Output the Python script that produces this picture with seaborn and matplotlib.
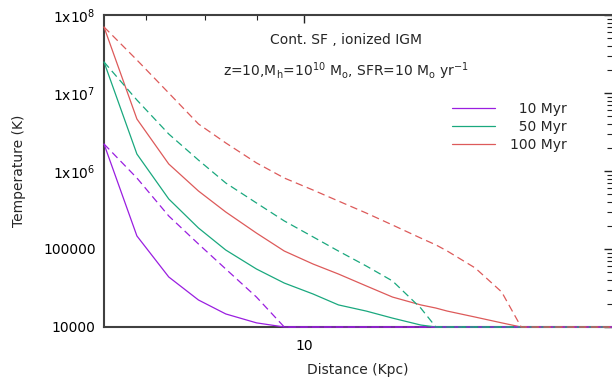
""" Temperature profiles vs distance, continuous SF in ionized IGM """

import pandas as pd
import seaborn as sns
import matplotlib.pyplot as plt
from matplotlib.lines import Line2D
from matplotlib.ticker import FixedLocator, FixedFormatter, LogLocator, NullFormatter

# Data
distance = [6.37, 6.86, 7.37, 7.88, 8.38, 8.98, 9.56, 10.2, 10.8, 11.5, 12.2,
            13.0, 13.45, 13.8, 14.7, 15.6, 16.3, 16.6, 17.6, 18.7, 20.0]

ages = ["10 Myr", "50 Myr", "100 Myr"]

solid_10 = [2.22e6, 1.47e5, 4.38e4, 2.22e4, 1.47e4, 1.13e4, 1.0e4, 1.0e4, 1.0e4, 1.0e4, 1.0e4,
            1.0e4, 1.0e4, 1.0e4, 1.0e4, 1.0e4, 1.0e4, 1.0e4, 1.0e4, 1.0e4, 1.0e4]
solid_50 = [2.50e7, 1.65e6, 4.38e5, 1.86e5, 9.70e4, 5.54e4, 3.66e4, 2.65e4, 1.92e4, 1.60e4, 1.30e4,
            1.06e4, 1.0e4, 1.0e4, 1.0e4, 1.0e4, 1.0e4, 1.0e4, 1.0e4, 1.0e4, 1.0e4]
solid_100 = [7.02e7, 4.64e6, 1.23e6, 5.54e5, 2.98e5, 1.60e5, 9.42e4, 6.42e4, 4.78e4, 3.36e4, 2.42e4,
             1.92e4, 1.75e4, 1.60e4, 1.34e4, 1.13e4, 1.0e4, 1.0e4, 1.0e4, 1.0e4, 1.0e4]

dashed_10 = [2.22e6, 8.13e5, 2.65e5, 1.16e5, 5.54e4, 2.42e4, 1.0e4, 1.0e4, 1.0e4, 1.0e4, 1.0e4,
             1.0e4, 1.0e4, 1.0e4, 1.0e4, 1.0e4, 1.0e4, 1.0e4, 1.0e4, 1.0e4, 1.0e4]
dashed_50 = [2.50e7, 8.13e6, 2.98e6, 1.38e6, 7.02e5, 3.89e5, 2.29e5, 1.43e5, 9.42e4, 6.05e4, 3.89e4,
             1.75e4, 1.0e4, 1.0e4, 1.0e4, 1.0e4, 1.0e4, 1.0e4, 1.0e4, 1.0e4, 1.0e4]
dashed_100 = [7.02e7, 2.65e7, 1.0e7, 4.01e6, 2.29e6, 1.27e6, 8.13e5, 5.70e5, 4.12e5, 2.89e5, 2.03e5,
              1.38e5, 1.13e5, 9.42e4, 5.70e4, 2.81e4, 1.0e4, 1.0e4, 1.0e4, 1.0e4, 1.0e4]

colors = ["#9a1ee0", "#1aa87e", "#dd5a5a"]


def long_form(series):
    """ Stack series into a long-form frame """
    frames = []
    for age, temp in zip(ages, series):
        frames.append(pd.DataFrame({"Distance": distance, "Temperature": temp, "Age": age}))
    return pd.concat(frames, ignore_index=True)


if __name__ == "__main__":
    sns.set_theme(style="white")
    plt.rcParams["font.family"] = ["DejaVu Sans"]
    plt.rcParams["mathtext.default"] = "regular"

    fig = plt.figure(figsize=(6.12, 3.79), dpi=100)
    ax = fig.add_axes([104 / 612, 1 - 327 / 379, 508 / 612, 312 / 379])

    palette = dict(zip(ages, colors))
    sns.lineplot(data=long_form([solid_10, solid_50, solid_100]), x="Distance", y="Temperature",
                 hue="Age", hue_order=ages, palette=palette, linewidth=0.9, legend=False, ax=ax)
    n_solid = len(ax.lines)
    sns.lineplot(data=long_form([dashed_10, dashed_50, dashed_100]), x="Distance", y="Temperature",
                 hue="Age", hue_order=ages, palette=palette, linewidth=0.9, legend=False, ax=ax)
    for i, line in enumerate(ax.lines):
        line.set_clip_on(False)
        line.set_zorder(3)
        if i >= n_solid:
            line.set_linestyle((0, (6, 3.5)))

    # Axes
    ax.set_xscale("log")
    ax.set_yscale("log")
    ax.set_xlim(6.37, 20)
    ax.set_ylim(1e4, 1e8)
    ax.xaxis.set_major_locator(FixedLocator([10]))
    ax.xaxis.set_major_formatter(FixedFormatter(["10"]))
    ax.xaxis.set_minor_locator(LogLocator(base=10, subs=range(2, 10)))
    ax.xaxis.set_minor_formatter(NullFormatter())
    ax.yaxis.set_major_locator(FixedLocator([1e4, 1e5, 1e6, 1e7, 1e8]))
    ax.yaxis.set_major_formatter(FixedFormatter(["10000", "100000", "1x10$^6$", "1x10$^7$", "1x10$^8$"]))
    ax.yaxis.set_minor_locator(LogLocator(base=10, subs=range(2, 10)))
    ax.yaxis.set_minor_formatter(NullFormatter())
    ax.tick_params(which="both", direction="in", top=True, right=True, color="#222222",
                   labelsize=10, labelcolor="black", pad=6)
    ax.tick_params(axis="x", which="both", pad=9)
    ax.tick_params(which="major", length=6, width=1)
    ax.tick_params(which="minor", length=3.5, width=0.8)
    for side in ["left", "bottom", "top"]:
        ax.spines[side].set_color("#404040")
        ax.spines[side].set_linewidth(1.5)
    ax.spines["right"].set_visible(False)

    ax.set_xlabel("Distance (Kpc)", fontsize=10, labelpad=7)
    ax.set_ylabel("Temperature (K)", fontsize=10, labelpad=12)

    ax.text(0.476, 0.92, "Cont. SF , ionized IGM", transform=ax.transAxes,
            ha="center", va="center", fontsize=10)
    ax.text(0.476, 0.82, "z=10,M$_{h}$=10$^{10}$ M$_{o}$, SFR=10 M$_{o}$ yr$^{-1}$",
            transform=ax.transAxes, ha="center", va="center", fontsize=10)

    handles = [Line2D([], [], color=c, linewidth=0.9) for c in colors]
    ax.legend(handles, ["  10 Myr", "  50 Myr", "100 Myr"], loc="upper right",
              bbox_to_anchor=(0.911, 0.722), borderaxespad=0, borderpad=0, frameon=False,
              fontsize=10, handlelength=3.1, handletextpad=1.1, labelspacing=0.3)

    plt.savefig("out.png", dpi=100)
